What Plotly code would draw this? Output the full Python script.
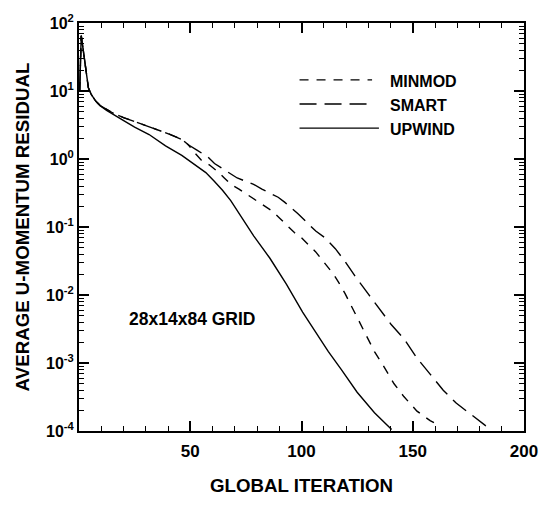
import plotly.graph_objects as go

# ---- data ----
upwind_iter = [0.3, 1, 2, 3, 4.2, 5.5, 7.5, 9.5, 12.4, 19.7, 25, 31.5, 38.9, 46.2, 53.5, 57, 60.9,
               64.5, 68.2, 73.3, 78.5, 85.8, 93.2, 100.5, 107.8, 112, 118, 125, 132.8, 138.7, 140.5]
upwind_res = [10, 65, 38, 23, 11.2, 8.9, 7.1, 6.1, 5.18, 3.73, 2.95, 2.29, 1.56, 1.13, 0.759, 0.631,
              0.468, 0.347, 0.245, 0.136, 0.0741, 0.0347, 0.01445, 0.00562, 0.0024, 0.00148,
              0.000794, 0.000372, 0.000186, 0.00012, 0.000105]

minmod_iter = [0.3, 1, 2, 3, 4.2, 5.5, 7.5, 9.5, 15, 20, 25, 31.5, 38.1, 41.1, 46.2, 49.1, 52, 55,
               58.7, 62.3, 65.3, 68.2, 71.9, 76.3, 79.2, 82.9, 86.6, 90.2, 93.2, 96.8, 99.8, 103.4,
               106.4, 109.3, 111.5, 114.5, 116.7, 119.6, 124, 128.4, 132.8, 137.3, 141.6, 146,
               151.9, 157.8, 160.7]
minmod_res = [10, 65, 38, 23, 11.2, 8.9, 7.1, 6.1, 4.79, 4.07, 3.55, 3.01, 2.55, 2.29, 1.94, 1.62, 1.23,
              0.959, 0.815, 0.655, 0.526, 0.424, 0.36, 0.289, 0.245, 0.209, 0.174, 0.135, 0.108,
              0.0828, 0.0703, 0.0535, 0.043, 0.0327, 0.0264, 0.02, 0.0153, 0.01045, 0.00543,
              0.00282, 0.00147, 0.000855, 0.000495, 0.000321, 0.000196, 0.000142, 0.000127]

smart_iter = [0.3, 1, 2, 3, 4.2, 5.5, 7.5, 9.5, 15, 20, 25, 31.5, 38.1, 41.1, 46.2, 49.1, 53, 57.9,
              60.9, 67.5, 71.1, 78.5, 82.2, 89.5, 92.4, 98.3, 101, 106.4, 110.4, 115.2, 119.6, 124,
              129.9, 135.8, 140.2, 146, 151.9, 157.8, 163.7, 169.5, 176.9, 182.7, 185.5]
smart_res = [10, 65, 38, 23, 11.2, 8.9, 7.1, 6.1, 4.79, 4.07, 3.55, 3.01, 2.55, 2.29, 1.94, 1.62, 1.35,
             1.07, 0.857, 0.618, 0.526, 0.424, 0.36, 0.274, 0.232, 0.158, 0.129, 0.0871, 0.070,
             0.048, 0.031, 0.0191, 0.01045, 0.00575, 0.00372, 0.00228, 0.00118, 0.000687, 0.000398,
             0.000258, 0.000167, 0.00012, 0.000107]

x_tickvals = [50, 100, 150, 200]
x_ticktext = ["50", "100", "150", "200"]
y_tickvals = [1e-4, 1e-3, 1e-2, 1e-1, 1e0, 1e1, 1e2]
y_ticktext = ["10<sup>-4</sup>", "10<sup>-3</sup>", "10<sup>-2</sup>", "10<sup>-1</sup>",
              "10<sup>0</sup>", "10<sup>1</sup>", "10<sup>2</sup>"]
x_minor = [v for v in range(10, 200, 10)]
y_minor = [k * 10.0 ** e for e in range(-4, 2) for k in range(2, 10)]

legend_names = ["MINMOD", "SMART", "UPWIND"]
legend_dash = ["9px,8px", "17px,8px", "solid"]

FONT = "Liberation Sans, Arial, sans-serif"
lw = 1.4

fig = go.Figure()
fig.add_trace(go.Scatter(x=minmod_iter, y=minmod_res, mode="lines", name="MINMOD",
                         line=dict(color="black", width=lw, dash=legend_dash[0]), showlegend=False))
fig.add_trace(go.Scatter(x=smart_iter, y=smart_res, mode="lines", name="SMART",
                         line=dict(color="black", width=lw, dash=legend_dash[1]), showlegend=False))
fig.add_trace(go.Scatter(x=upwind_iter, y=upwind_res, mode="lines", name="UPWIND",
                         line=dict(color="black", width=lw, dash=legend_dash[2]), showlegend=False))

# manual legend (lines + labels) in paper coordinates
leg_y = [0.8605, 0.8014, 0.7423]
leg_x1 = [0.6586, 0.6630, 0.6740]
for name, dash, yy, x1 in zip(legend_names, legend_dash, leg_y, leg_x1):
    fig.add_shape(type="line", xref="paper", yref="paper", x0=0.4956, x1=x1, y0=yy, y1=yy,
                  line=dict(color="black", width=lw, dash=dash))
    fig.add_annotation(xref="paper", yref="paper", x=0.694, y=yy - 0.004, text=name,
                       showarrow=False, xanchor="left", yanchor="middle",
                       font=dict(family=FONT, size=16, color="black", weight="bold"))

fig.add_annotation(xref="paper", yref="paper", x=0.108, y=0.2742, text="28x14x84 GRID",
                   showarrow=False, xanchor="left", yanchor="middle",
                   font=dict(family=FONT, size=17.5, color="black", weight="bold"))

fig.update_layout(
    width=550, height=505,
    margin=dict(l=79, r=17, t=16, b=66),
    plot_bgcolor="white", paper_bgcolor="white",
    font=dict(family=FONT, color="black", weight="bold"),
)
fig.update_xaxes(
    range=[0, 200], tickmode="array", tickvals=x_tickvals, ticktext=x_ticktext,
    ticks="inside", ticklen=10, tickwidth=1.5, tickcolor="black",
    minor=dict(tickmode="array", tickvals=x_minor, ticks="inside", ticklen=5, tickwidth=1.2,
               tickcolor="black", showgrid=False),
    showline=True, linewidth=2, linecolor="black", mirror="allticks",
    showgrid=False, zeroline=False, ticklabelstandoff=4,
    tickfont=dict(family=FONT, size=17, color="black", weight="bold"),
    title=dict(text="GLOBAL ITERATION", standoff=19,
               font=dict(family=FONT, size=18.7, color="black", weight="bold")),
)
fig.update_yaxes(
    type="log", range=[-4, 2], tickmode="array", tickvals=y_tickvals, ticktext=y_ticktext,
    ticks="inside", ticklen=10, tickwidth=1.5, tickcolor="black",
    minor=dict(tickmode="array", tickvals=y_minor, ticks="inside", ticklen=5, tickwidth=1.2,
               tickcolor="black", showgrid=False),
    showline=True, linewidth=2, linecolor="black", mirror="allticks",
    showgrid=False, zeroline=False,
    tickfont=dict(family=FONT, size=16, color="black", weight="bold"),
    title=dict(text="AVERAGE U-MOMENTUM RESIDUAL", standoff=12,
               font=dict(family=FONT, size=18.7, color="black", weight="bold")),
)

fig.write_html("out.html", config={"displayModeBar": False},
               post_script="document.body.style.margin='0';document.body.style.overflow='hidden';")
